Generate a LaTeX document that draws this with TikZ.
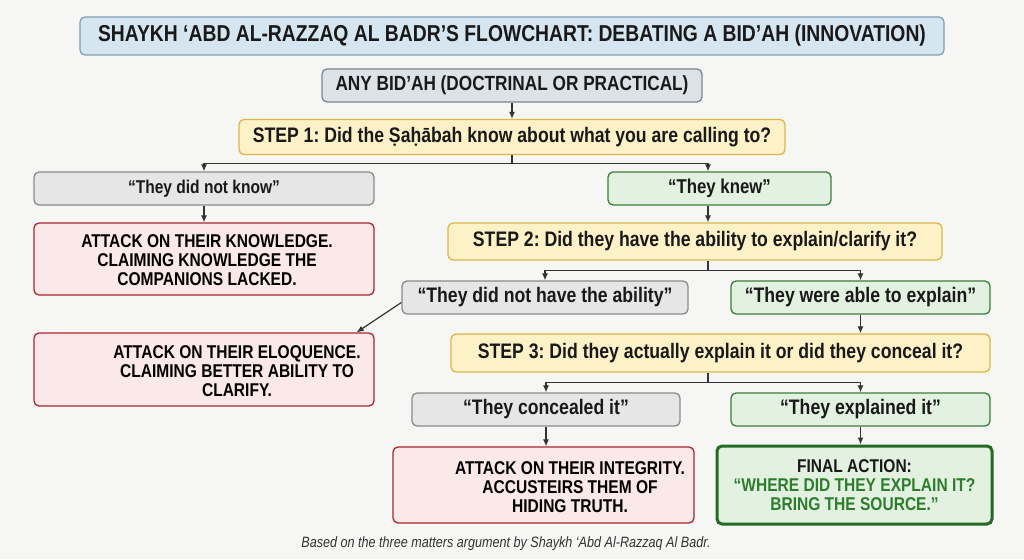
\documentclass[tikz,border=0pt]{standalone}
\usepackage{fontspec}
\setmainfont{Liberation Sans}[FakeStretch=0.84]
\usetikzlibrary{arrows.meta}
\frenchspacing

\definecolor{bgcol}{HTML}{F6F6F4}
\definecolor{titlefill}{HTML}{D6E6F0}
\definecolor{titleline}{HTML}{7F9FB5}
\definecolor{anyfill}{HTML}{DDE2E7}
\definecolor{anyline}{HTML}{7C8590}
\definecolor{stepfill}{HTML}{FDF1C8}
\definecolor{stepline}{HTML}{D9B74A}
\definecolor{nofill}{HTML}{E6E6E6}
\definecolor{noline}{HTML}{8A8A8A}
\definecolor{yesfill}{HTML}{E3F1E0}
\definecolor{yesline}{HTML}{3A7D3A}
\definecolor{atkfill}{HTML}{FBE8E8}
\definecolor{atkline}{HTML}{A8262F}
\definecolor{finline}{HTML}{236B23}
\definecolor{fintext}{HTML}{2E7D2E}
\definecolor{arrcol}{HTML}{333333}

\tikzset{
  box/.style={draw, rounded corners=5pt, line width=1.3pt, inner sep=0pt,
    text=black!90, font=\bfseries\fontsize{21}{23}\selectfont},
  titlebox/.style={box, fill=titlefill, draw=titleline,
    font=\bfseries\fontsize{23}{25}\selectfont},
  anybox/.style={box, fill=anyfill, draw=anyline,
    font=\bfseries\fontsize{20.5}{22}\selectfont},
  stepbox/.style={box, fill=stepfill, draw=stepline},
  nobox/.style={box, fill=nofill, draw=noline},
  yesbox/.style={box, fill=yesfill, draw=yesline},
  atkbox/.style={box, fill=atkfill, draw=atkline},
  finbox/.style={box, fill=yesfill, draw=finline, line width=3pt},
  atktext/.style={align=center, inner sep=0pt,
    font=\bfseries\fontsize{18.5}{19}\selectfont},
  arr/.style={draw=arrcol, line width=1.2pt, -{Latex[length=7pt,width=6pt]}},
}

\begin{document}
\begin{tikzpicture}[x=1pt,y=-1pt]

  % fond
  \fill[bgcol] (0,0) rectangle (1024,559);

  % Titre et départ
  \node[titlebox, minimum width=864, minimum height=38] (title) at (512,36)
    {SHAYKH ‘ABD AL-RAZZAQ AL BADR’S FLOWCHART: DEBATING A BID’AH (INNOVATION)};
  \node[anybox, minimum width=380, minimum height=33] (any) at (512,85.5)
    {ANY BID’AH (DOCTRINAL OR PRACTICAL)};
  \coordinate (spine) at (708,0);

  % ---- Etape 1 ----
  \node[stepbox, minimum width=546, minimum height=35] (step1) at (512,137)
    {STEP 1: Did the Ṣaḥābah know about what you are calling to?};
  \node[nobox, minimum width=340, minimum height=33,
        font=\bfseries\fontsize{18.5}{20}\selectfont] (notknow) at (204,188.5)
    {“They did not know”};
  \node[yesbox, minimum width=223, minimum height=33,
        font=\bfseries\fontsize{20}{22}\selectfont] (knew) at (719.5,188.5)
    {“They knew”};
  \node[atkbox, minimum width=340, minimum height=72] (atk1) at (204,259) {};
  \node[atktext] (atk1txt) at (207,260)
    {ATTACK ON THEIR KNOWLEDGE.\\CLAIMING KNOWLEDGE THE\\COMPANIONS LACKED.};

  % ---- Etape 2 ----
  \node[stepbox, minimum width=494, minimum height=37] (step2) at (695,241.5)
    {STEP 2: Did they have the ability to explain/clarify it?};
  \node[nobox, minimum width=286, minimum height=33] (noability) at (545,297.5)
    {“They did not have the ability”};
  \node[yesbox, minimum width=259, minimum height=33] (able) at (860.5,297.5)
    {“They were able to explain”};
  \node[atkbox, minimum width=340, minimum height=73] (atk2) at (204,369.5) {};
  \node[atktext] (atk2txt) at (237,371)
    {ATTACK ON THEIR ELOQUENCE.\\CLAIMING BETTER ABILITY TO\\CLARIFY.};

  % ---- Etape 3 ----
  \node[stepbox, minimum width=539, minimum height=38] (step3) at (720.5,353)
    {STEP 3: Did they actually explain it or did they conceal it?};
  \node[nobox, minimum width=268, minimum height=33] (concealed) at (546,409.5)
    {“They concealed it”};
  \node[yesbox, minimum width=259, minimum height=33] (explained) at (860.5,409.5)
    {“They explained it”};
  \node[atkbox, minimum width=301, minimum height=76] (atk3) at (543.5,485) {};
  \node[atktext] (atk3txt) at (570,487)
    {ATTACK ON THEIR INTEGRITY.\\ACCUSTEIRS THEM OF\\HIDING TRUTH.};
  \node[finbox, minimum width=275, minimum height=78, align=center,
        font=\bfseries\fontsize{18.5}{19}\selectfont] (final) at (854.5,485)
    {FINAL ACTION:\\\textcolor{fintext}{“WHERE DID THEY EXPLAIN IT?}\\
     \textcolor{fintext}{BRING THE SOURCE.”}};

  % note
  \node[font=\itshape\fontsize{15}{17}\selectfont, text=black!80] (note) at (506,544)
    {Based on the three matters argument by Shaykh ‘Abd Al-Razzaq Al Badr.};

  % ---- Flèches ----
  \draw[arr] (any) -- (step1);
  \draw[arrcol, line width=1.2pt] (step1.south) -- ++(0,8) coordinate (b1);
  \draw[arr] (b1) -| (notknow.north);
  \draw[arr] (b1) -| (spine |- knew.north);
  \draw[arr] (notknow) -- (atk1);
  \draw[arr] (spine |- knew.south) -- (spine |- step2.north);

  \draw[arrcol, line width=1.2pt] (spine |- step2.south) -- ++(0,10) coordinate (b2);
  \draw[arr] (b2) -| (noability.north);
  \draw[arr] (b2) -| (able.north);
  \draw[arr] ([yshift=-5pt]noability.west) -- ([xshift=-18pt]atk2.north east);
  \draw[arr] (able.south) -- (able.south |- step3.north);

  \draw[arrcol, line width=1.2pt] (spine |- step3.south) -- ++(0,10) coordinate (b3);
  \draw[arr] (b3) -| (concealed.north);
  \draw[arr] (b3) -| (explained.north);
  \draw[arr] (concealed.south) -- (concealed.south |- atk3.north);
  \draw[arr] (explained.south) -- (explained.south |- final.north);

\end{tikzpicture}
\end{document}
